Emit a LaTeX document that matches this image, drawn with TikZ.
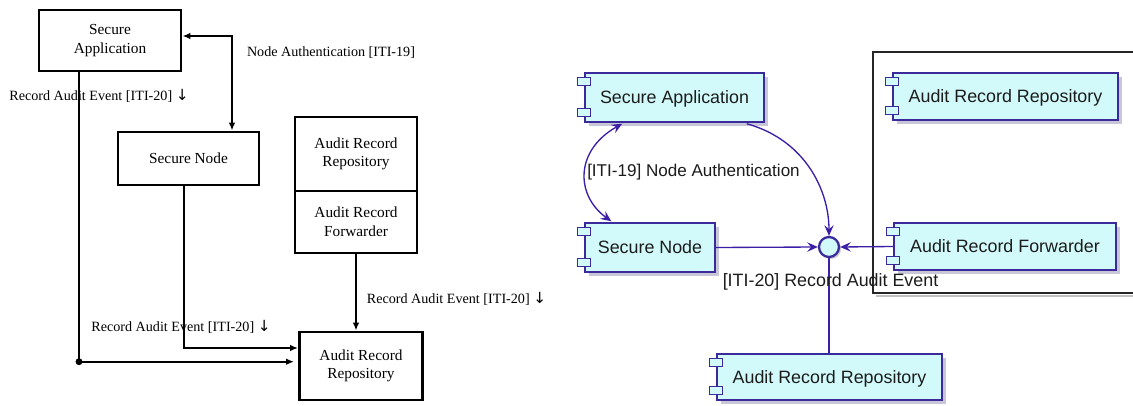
\documentclass[tikz,border=0pt]{standalone}
\usepackage{fontspec}
\setmainfont{Liberation Serif}
\newfontfamily\umlfont{Liberation Sans}
\newfontfamily\symfont{DejaVu Sans}
\usetikzlibrary{arrows.meta,calc,shadows}
\newcommand\pxu{0.75pt}
\newcommand\downarr{{\symfont\fontsize{11.5}{12}\selectfont ↓}}
\definecolor{compfill}{HTML}{D2FAFA}
\definecolor{compline}{HTML}{3A2A9C}
\definecolor{umlarrow}{HTML}{3C1FA6}
\definecolor{umltext}{HTML}{1C1C1C}
\tikzset{
  lbox/.style={draw, line width=2.2pt, align=center, inner sep=0pt,
    font=\fontsize{11.5}{13.9}\selectfont},
  lline/.style={line width=1.5pt},
  ltip/.tip={Latex[length=6pt,width=5pt]},
  ltext/.style={inner sep=0pt, font=\fontsize{10.6}{12.5}\selectfont},
  comp/.style={draw=compline, line width=1.1pt, fill=compfill, inner sep=0pt,
    text height=9.6pt, text depth=0pt,
    font=\umlfont\fontsize{13.4}{16}\selectfont, text=umltext,
    drop shadow={shadow xshift=2.8pt, shadow yshift=-2.8pt, fill=black!70!blue, opacity=0.22}},
  compicon/.style={draw=compline, line width=0.9pt, fill=compfill},
  umlline/.style={draw=umlarrow, line width=1pt},
  utip/.tip={Stealth[length=8pt,width=7pt,inset=3pt]},
  utext/.style={inner sep=0pt, font=\umlfont\fontsize{13.4}{16}\selectfont, text=umltext},
}
\begin{document}
\begin{tikzpicture}[x=0.75pt, y=-0.75pt]
\useasboundingbox (0,0) rectangle (1133,406);
\fill[white] (0,0) rectangle (1133,406);

% ---------- block diagram ----------
\node[lbox, minimum width=142*\pxu, minimum height=61*\pxu] (sa) at (110,40.5) {Secure\\Application};
\node[lbox, minimum width=141*\pxu, minimum height=53*\pxu] (sn) at (188.5,158.5) {Secure Node};
\node[lbox, minimum width=122*\pxu, minimum height=74*\pxu] (arrt) at (356,154) {Audit Record\\Repository};
\node[lbox, minimum width=122*\pxu, minimum height=62*\pxu] (arf) at (356,222) {Audit Record\\Forwarder};
\node[lbox, minimum width=123*\pxu, minimum height=68*\pxu] (arrb) at (361,366) {Audit Record\\Repository};

\draw[lline, ltip-ltip] ($(sa.east)+(0,-4.5)$) -| ($(sn.north)+(43.5,0)$);
\coordinate (j1) at (79,361.7);
\coordinate (j2) at (184,348);
\draw[lline] (sa.south -| j1) -- (j1);
\draw[lline, -ltip, shorten >=3pt] (j1) -- (j1 -| arrb.west);
\fill (j1) circle[radius=2.6pt];
\draw[lline, -ltip] (sn.south -| j2) -- (j2) -- (j2 -| arrb.west);
\draw[lline, -ltip] (arf.south) -- (arf.south |- arrb.north);

\node[ltext] (lna) at (331,53) {Node Authentication [ITI-19]};
\node[ltext] (lra1) at (99,96) {Record Audit Event [ITI-20] \downarr};
\node[ltext] (lra2) at (456.5,299) {Record Audit Event [ITI-20] \downarr};
\node[ltext] (lra3) at (181,327) {Record Audit Event [ITI-20] \downarr};

% ---------- component diagram ----------
\draw[black!40, line width=2pt, opacity=0.6] (876,296) -- (1140,296);
\draw[black!85, line width=1.1pt] (1140,52) -- (873,52) -- (873,293) -- (1140,293);

\node[comp, minimum width=179*\pxu, minimum height=49*\pxu] (sa2) at (674.5,97.5) {Secure Application};
\node[comp, minimum width=225*\pxu, minimum height=47*\pxu] (arri) at (1005.5,96.5) {Audit Record Repository};
\node[comp, minimum width=130*\pxu, minimum height=49*\pxu] (sn2) at (650,247.5) {Secure Node};
\node[comp, minimum width=222*\pxu, minimum height=47*\pxu] (arf2) at (1005,246.5) {Audit Record Forwarder};
\node[comp, minimum width=225*\pxu, minimum height=46*\pxu] (arrb2) at (829.5,377) {Audit Record Repository};
\foreach \n in {sa2,arri,sn2,arf2,arrb2}{
  \draw[compicon] ($(\n.north west)+(-6.5,5.5)$) rectangle ++(13,8);
  \draw[compicon] ($(\n.south west)+(-6.5,-6.5)$) rectangle ++(13,-8);
}
\node[circle, draw=compline, line width=1.7pt, fill=compfill, minimum size=20*\pxu, inner sep=0pt,
  drop shadow={shadow xshift=1.5pt, shadow yshift=-1.5pt, fill=black, opacity=0.2}] (ev) at (829,247) {};

\draw[umlline, -utip] (sn2.east) -- (ev.west);
\draw[umlline, -utip] (arf2.west) -- (ev.east);
\draw[umlline] (ev.south) -- (ev.south |- arrb2.north);
\draw[umlline, -utip] ($(sa2.south east)+(-18,1)$) .. controls (805,140) and (829,190) .. (ev.north);
\draw[umlline, utip-utip] ($(sa2.south west)+(38,1)$) .. controls (575,150) and (575,195) .. ($(sn2.north west)+(27,-1)$);

\node[utext, font=\umlfont\fontsize{12.8}{15}\selectfont] (l19) at (693.5,172) {[ITI-19] Node Authentication};
\node[utext] (l20) at (830.5,282) {[ITI-20] Record Audit Event};
\end{tikzpicture}
\end{document}
